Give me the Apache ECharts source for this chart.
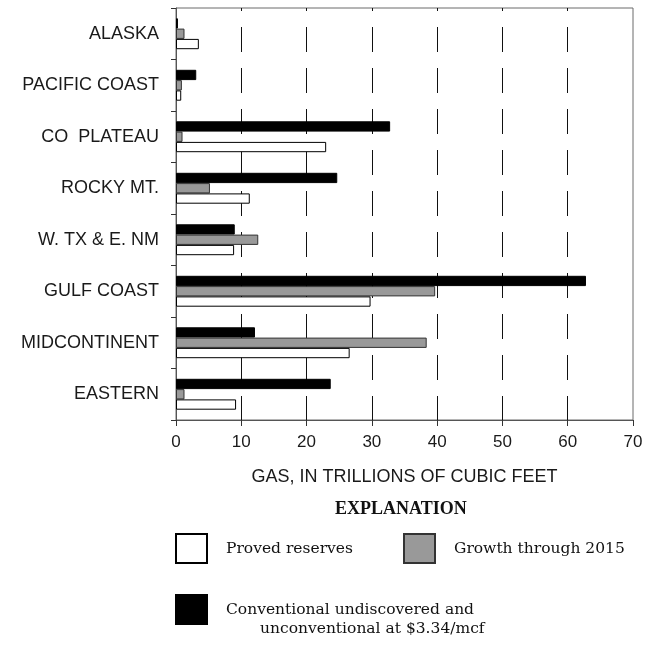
<!DOCTYPE html>
<html>
<head>
<meta charset="utf-8">
<script src="https://cdn.jsdelivr.net/npm/echarts@6/dist/echarts.min.js"></script>
<style>
  html, body { margin: 0; padding: 0; background: #fff; }
  #chart { width: 653px; height: 647px; }
</style>
</head>
<body>
<div id="chart"></div>
<script>
// Regions, listed top to bottom
const regions = ['ALASKA', 'PACIFIC COAST', 'CO  PLATEAU', 'ROCKY MT.', 'W. TX & E. NM',
                 'GULF COAST', 'MIDCONTINENT', 'EASTERN'];
// Gas volumes, trillions of cubic feet
const provedReserves = [3.5, 0.8, 23.0, 11.3, 8.9, 29.8, 26.6, 9.2];
const growthThrough2015 = [1.3, 0.9, 1.0, 5.2, 12.6, 39.7, 38.4, 1.3];
const undiscoveredAndUnconventional = [0.3, 3.1, 32.8, 24.7, 9.0, 62.8, 12.1, 23.7];
const xTicks = [0, 10, 20, 30, 40, 50, 60, 70];

const SANS = 'Liberation Sans, Arial, sans-serif';
const SERIF = 'DejaVu Serif, serif';
const LEGEND_SIZE = 15.5;

const chart = echarts.init(document.getElementById('chart'), null, { renderer: 'canvas' });

const legendText = { fontFamily: SERIF, fontSize: LEGEND_SIZE, color: '#111', padding: [0, 0, 0, 14] };

chart.setOption({
  animation: false,
  backgroundColor: '#fff',
  title: {
    text: 'EXPLANATION',
    left: 335, top: 500, padding: 0,
    textStyle: { fontFamily: 'Liberation Serif, serif', fontWeight: 'bold', fontSize: 18, color: '#111' }
  },
  legend: [
    {
      data: ['Proved reserves'], left: 175, top: 533, padding: 0,
      itemWidth: 31, itemHeight: 29, icon: 'rect', selectedMode: false,
      textStyle: legendText
    },
    {
      data: ['Growth through 2015'], left: 403, top: 533, padding: 0,
      itemWidth: 31, itemHeight: 29, icon: 'rect', selectedMode: false,
      textStyle: legendText
    },
    {
      data: ['Conventional undiscovered and unconventional at $3.34/mcf'],
      left: 175, top: 594, padding: 0,
      itemWidth: 31, itemHeight: 29, icon: 'rect', selectedMode: false,
      formatter: function () {
        return '{a|Conventional undiscovered and}\n{b|unconventional at $3.34/mcf}';
      },
      textStyle: {
        fontFamily: SERIF, fontSize: LEGEND_SIZE, color: '#111', padding: [20, 0, 0, 14],
        rich: {
          a: { fontFamily: SERIF, fontSize: LEGEND_SIZE, color: '#111', lineHeight: 19 },
          b: { fontFamily: SERIF, fontSize: LEGEND_SIZE, color: '#111', lineHeight: 19, padding: [0, 0, 0, 34] }
        }
      }
    }
  ],
  grid: {
    left: 176, right: 20, top: 8, bottom: 227,
    show: true, borderColor: '#6a6a6a', borderWidth: 1, backgroundColor: 'transparent'
  },
  xAxis: {
    type: 'value', min: 0, max: 70, interval: 10,
    name: 'GAS, IN TRILLIONS OF CUBIC FEET',
    nameLocation: 'middle', nameGap: 48,
    nameTextStyle: { fontFamily: SANS, fontSize: 18, color: '#1a1a1a' },
    axisLine: { show: true, lineStyle: { color: '#555', width: 1 } },
    axisTick: { show: true, length: 6, lineStyle: { color: '#333' } },
    axisLabel: {
      fontFamily: SANS, fontSize: 17, color: '#1a1a1a', margin: 14,
      formatter: function (v) { return xTicks.indexOf(v) >= 0 ? String(v) : ''; }
    },
    splitLine: {
      show: true, showMinLine: false, showMaxLine: false,
      lineStyle: { color: '#111', width: 1, type: [25, 16], dashOffset: 22 }
    }
  },
  yAxis: {
    type: 'category', data: regions, inverse: true,
    axisLine: { show: true, lineStyle: { color: '#555', width: 1 } },
    axisTick: { show: true, length: 5, lineStyle: { color: '#333' } },
    axisLabel: { fontFamily: SANS, fontSize: 18, color: '#1a1a1a', margin: 17 },
    splitLine: { show: false }
  },
  series: [
    {
      name: 'Conventional undiscovered and unconventional at $3.34/mcf',
      type: 'bar', data: undiscoveredAndUnconventional,
      barGap: 0, barCategoryGap: '40%',
      itemStyle: { color: '#000', borderColor: '#000', borderWidth: 1 }
    },
    {
      name: 'Growth through 2015',
      type: 'bar', data: growthThrough2015,
      barGap: 0, barCategoryGap: '40%',
      itemStyle: { color: '#999', borderColor: '#333', borderWidth: 1 }
    },
    {
      name: 'Proved reserves',
      type: 'bar', data: provedReserves,
      barGap: 0, barCategoryGap: '40%',
      itemStyle: { color: '#fff', borderColor: '#000', borderWidth: 1 }
    }
  ]
});
</script>
</body>
</html>
